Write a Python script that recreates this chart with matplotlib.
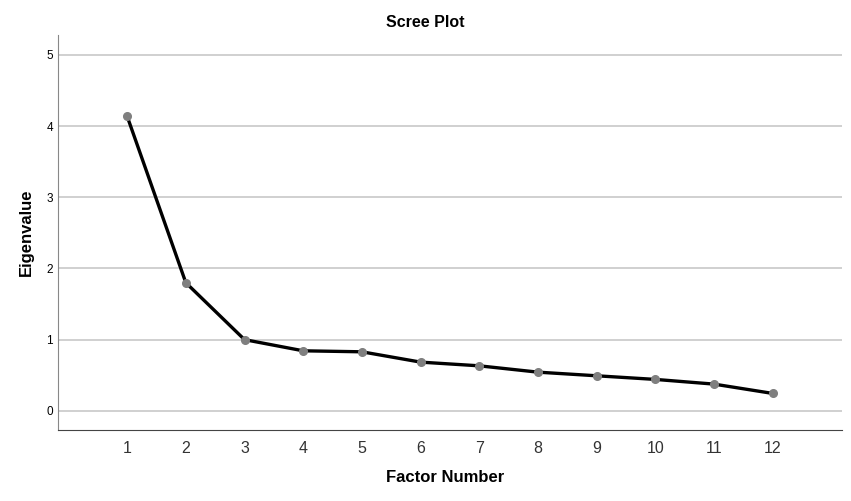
import matplotlib
matplotlib.use("Agg")
import matplotlib.pyplot as plt

# Scree plot values
factor_number = [1, 2, 3, 4, 5, 6, 7, 8, 9, 10, 11, 12]
eigenvalues = [4.14, 1.80, 1.00, 0.843, 0.829, 0.684, 0.632, 0.543, 0.492, 0.441, 0.375, 0.244]
y_ticks = [0, 1, 2, 3, 4, 5]

plt.rcParams['font.family'] = ['Liberation Sans', 'DejaVu Sans']

fig = plt.figure(figsize=(8.51, 5.01), dpi=100)
ax = fig.add_axes([0.0687, 0.1417, 0.9207, 0.7883])

# grid lines
for y in y_ticks:
    ax.axhline(y, color='#c8c8c8', linewidth=1.2, zorder=1)

ax.plot(factor_number, eigenvalues, color='black', linewidth=2.4, zorder=2,
        marker='o', markersize=5.5, markerfacecolor='#7f7f7f',
        markeredgecolor='#7f7f7f')

ax.set_xlim(-0.17, 13.18)
ax.set_ylim(-0.27, 5.28)
ax.set_xticks(factor_number)
ax.set_yticks(y_ticks)
ax.tick_params(axis='x', length=0, labelsize=11.5, pad=8, colors='#333333')
ax.tick_params(axis='y', length=0, labelsize=8.5, pad=4)

for side in ['top', 'right']:
    ax.spines[side].set_visible(False)
ax.spines['left'].set_color('#888888')
ax.spines['bottom'].set_color('#444444')

fig.text(0.5, 0.955, 'Scree Plot', ha='center', va='center',
         fontsize=11.5, fontweight='bold')
fig.text(445 / 851, 1 - 478 / 501, 'Factor Number', ha='center', va='center',
         fontsize=12, fontweight='bold')
fig.text(26 / 851, 1 - 232 / 501, 'Eigenvalue', ha='center', va='center',
         rotation=90, fontsize=12, fontweight='bold')

fig.savefig('out.png', dpi=100)
